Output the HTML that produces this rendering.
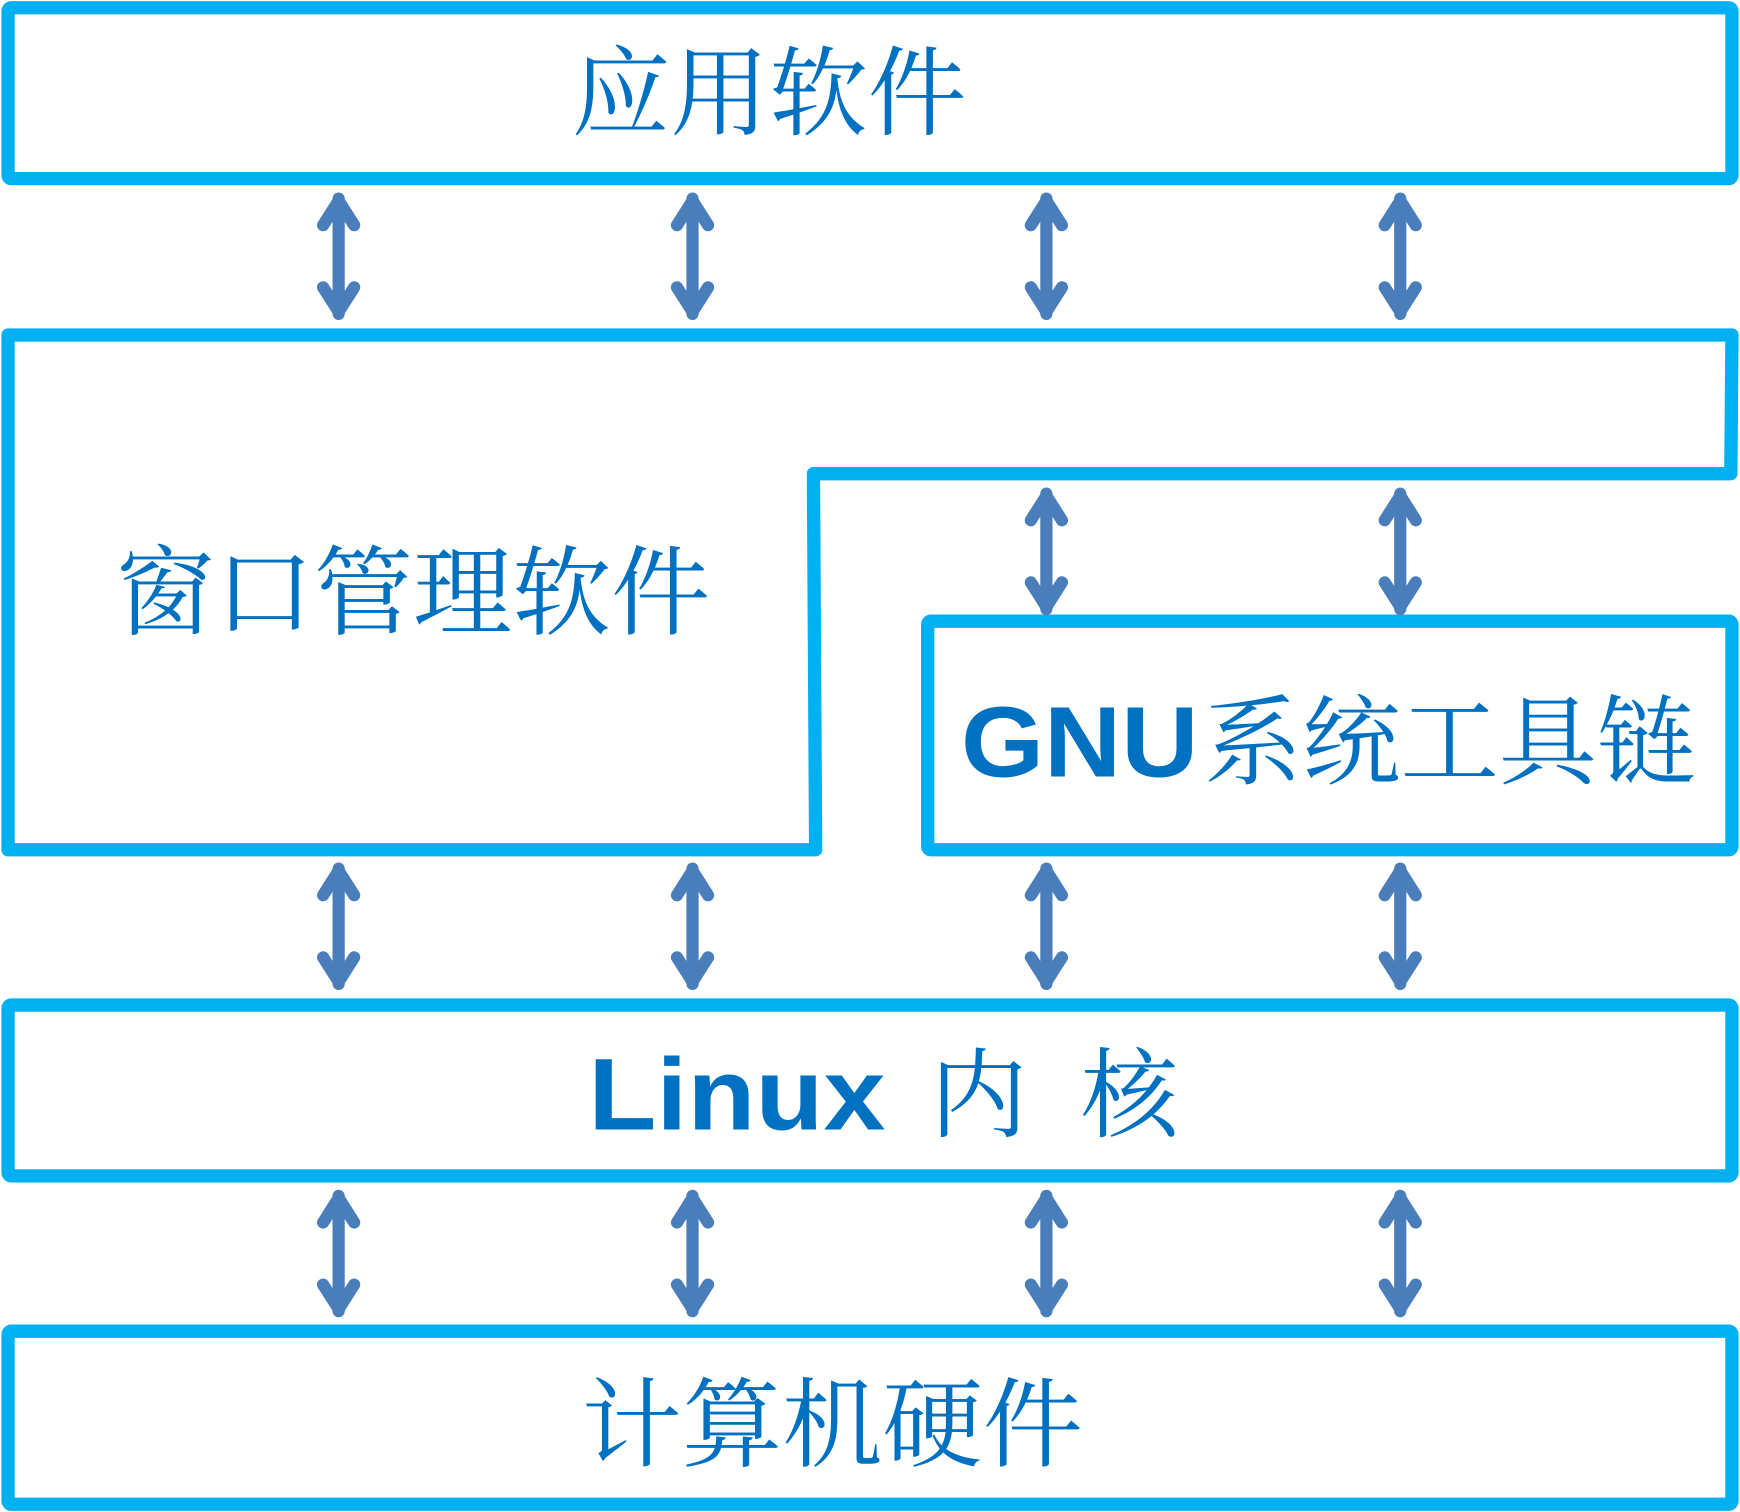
<!DOCTYPE html>
<html><head><meta charset="utf-8"><style>html,body{margin:0;padding:0;background:#fff}svg{display:block}</style></head>
<body>
<svg width="1740" height="1512" viewBox="0 0 1568 1363" xmlns="http://www.w3.org/2000/svg">
<defs>
<g id="arr" fill="none" stroke="#4a7ebb" stroke-width="11" stroke-linecap="round" stroke-linejoin="round">
<line x1="0" y1="8" x2="0" y2="112"/>
<polyline points="-14,32 0,10 14,32"/>
<polyline points="-14,88 0,110 14,88"/>
</g>
</defs>
<g fill="none" stroke="#00b0f0" stroke-width="12" stroke-linejoin="round">
<rect x="7" y="7" width="1554" height="154" rx="3"/>
<polygon points="7,302 1561,302 1560,427 733,427 735,766 7,766"/>
<rect x="836" y="560" width="725" height="206" rx="3"/>
<rect x="7" y="906" width="1554" height="154" rx="3"/>
<rect x="7" y="1200" width="1554" height="156" rx="3"/>
</g>
<g>
<use href="#arr" x="305" y="171"/><use href="#arr" x="624" y="171"/><use href="#arr" x="943" y="171"/><use href="#arr" x="1262" y="171"/>
<use href="#arr" x="943" y="437"/><use href="#arr" x="1262" y="437"/>
<use href="#arr" x="305" y="775"/><use href="#arr" x="624" y="775"/><use href="#arr" x="943" y="775"/><use href="#arr" x="1262" y="775"/>
<use href="#arr" x="305" y="1070"/><use href="#arr" x="624" y="1070"/><use href="#arr" x="943" y="1070"/><use href="#arr" x="1262" y="1070"/>
</g>
<g fill="#0070c0" font-family="'Noto Serif CJK SC','Noto Sans CJK SC',serif" font-size="88">
<text x="515" y="115" textLength="356" lengthAdjust="spacingAndGlyphs">应用软件</text>
<text x="104" y="565" textLength="536" lengthAdjust="spacingAndGlyphs">窗口管理软件</text>
<text x="866" y="700" font-family="'Liberation Sans',sans-serif" font-weight="bold" font-size="90" textLength="214" lengthAdjust="spacingAndGlyphs">GNU</text>
<text x="1085" y="700" textLength="443" lengthAdjust="spacingAndGlyphs">系统工具链</text>
<text x="530" y="1018" font-family="'Liberation Sans',sans-serif" font-weight="bold" font-size="92" textLength="268" lengthAdjust="spacingAndGlyphs">Linux</text>
<text x="838" y="1018">内</text>
<text x="974" y="1018">核</text>
<text x="524" y="1315" textLength="452" lengthAdjust="spacingAndGlyphs">计算机硬件</text>
</g>
</svg>
</body></html>
